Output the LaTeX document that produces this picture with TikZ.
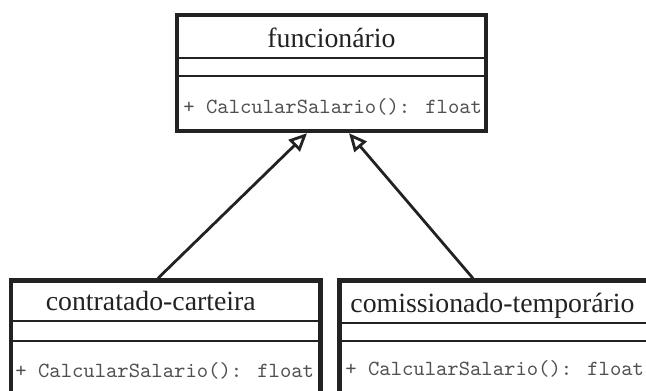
\documentclass[tikz,border=0pt]{standalone}
\usepackage{fontspec}
\setmainfont{Liberation Serif}
\usetikzlibrary{arrows.meta,positioning}
\definecolor{umlline}{HTML}{222222}
\definecolor{umltext}{HTML}{505050}
\begin{document}
\begin{tikzpicture}[x=0.5pt, y=-0.5pt,
	classname/.style={anchor=base, text=umlline, font=\fontsize{13.9pt}{16pt}\selectfont},
	method/.style={anchor=base west, inner sep=0pt, text=umltext, font=\ttfamily\fontsize{10.8pt}{12pt}\selectfont},
	divider/.style={draw=umlline, line width=1pt},
	inherit/.style={draw=umlline, line width=1.4pt, -{Triangle[open, length=9pt, width=8pt]}}]
		\useasboundingbox (0,0) rectangle (646,390);
		\clip (0,0) rectangle (646,390);
		\begin{scope}[every node/.style={draw=umlline, line width=2.2pt, inner sep=0pt}]
			\node[minimum width=154.5pt, minimum height=58pt] (func) at (331.5,73) {};
			\node[minimum width=154.75pt, minimum height=69.75pt] (cc) at (165.75,350.25) {};
			\node[minimum width=154.25pt, minimum height=69.75pt] (ct) at (493.75,350.25) {};
		\end{scope}
		\draw[divider] ([yshift=-22.5pt]func.north west) -- ([yshift=-22.5pt]func.north east);
		\draw[divider] ([yshift=-31.5pt]func.north west) -- ([yshift=-31.5pt]func.north east);
		\draw[divider] ([yshift=-21.25pt]cc.north west) -- ([yshift=-21.25pt]cc.north east);
		\draw[divider] ([yshift=-31.25pt]cc.north west) -- ([yshift=-31.25pt]cc.north east);
		\draw[divider] ([yshift=-22.25pt]ct.north west) -- ([yshift=-22.25pt]ct.north east);
		\draw[divider] ([yshift=-31.25pt]ct.north west) -- ([yshift=-31.25pt]ct.north east);
		
		\node[classname] (funcname) at (331.5,47) {funcionário};
		\node[method] (funcop) at (183,113) {+ CalcularSalario(): float};
		\node[classname] (ccname) at (150.8,310) {contratado-carteira};
		\node[method] (ccop) at (15,377) {+ CalcularSalario(): float};
		\node[classname] (ctname) at (492.5,312) {comissionado-temporário};
		\node[method] (ctop) at (345,375) {+ CalcularSalario(): float};
		
		\draw[inherit] ([xshift=-3.9pt]cc.north) -- ([xshift=-12.25pt]func.south);
		\draw[inherit] ([xshift=-10.4pt]ct.north) -- ([xshift=8.75pt]func.south);
	\end{tikzpicture}
\end{document}
